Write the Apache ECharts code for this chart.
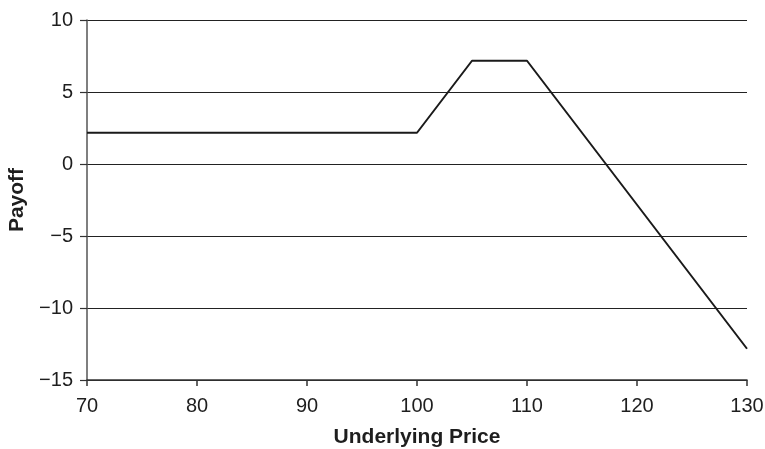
<!DOCTYPE html>
<html>
<head>
<meta charset="utf-8">
<script src="https://cdn.jsdelivr.net/npm/echarts@6/dist/echarts.min.js"></script>
<style>html,body{margin:0;padding:0;background:#fff}#c{width:765px;height:449px}</style>
</head>
<body>
<div id="c"></div>
<script>
const prices = [70, 100, 105, 110, 130];
const payoffs = [2.17, 2.17, 7.17, 7.17, -12.83];
const xTitle = 'Underlying Price';
const yTitle = 'Payoff';

const chart = echarts.init(document.getElementById('c'), null, {renderer: 'canvas'});
const font = 'Liberation Sans, Arial, Helvetica, sans-serif';
chart.setOption({
  animation: false,
  backgroundColor: '#fff',
  grid: {left: 87, right: 18, top: 20, bottom: 69, containLabel: false, outerBoundsMode: 'none'},
  xAxis: {
    type: 'value', min: 70, max: 130, interval: 10,
    name: xTitle, nameLocation: 'middle', nameGap: 47,
    nameTextStyle: {fontFamily: font, fontSize: 21, fontWeight: 'bold', color: '#1e1e1e'},
    axisLine: {show: true, onZero: false, lineStyle: {color: '#333', width: 1.5}},
    axisTick: {show: true, inside: false, length: 6, lineStyle: {color: '#333', width: 1.5}},
    axisLabel: {fontFamily: font, fontSize: 20, color: '#1e1e1e', margin: 16},
    splitLine: {show: false}
  },
  yAxis: {
    type: 'value', min: -15, max: 10, interval: 5,
    name: yTitle, nameLocation: 'middle', nameGap: 59,
    nameTextStyle: {fontFamily: font, fontSize: 21, fontWeight: 'bold', color: '#1e1e1e'},
    axisLine: {show: true, lineStyle: {color: '#555', width: 1.5}},
    axisTick: {show: true, inside: false, length: 7, lineStyle: {color: '#333', width: 1.2}},
    axisLabel: {fontFamily: font, fontSize: 20, color: '#1e1e1e', margin: 14,
      formatter: v => v < 0 ? '\u2212' + Math.abs(v) : String(v)},
    splitLine: {show: true, lineStyle: {color: '#222', width: 1}}
  },
  series: [{
    type: 'line',
    data: prices.map((p, i) => [p, payoffs[i]]),
    showSymbol: false,
    lineStyle: {color: '#1a1a1a', width: 2},
    z: 5
  }]
});
</script>
</body>
</html>
